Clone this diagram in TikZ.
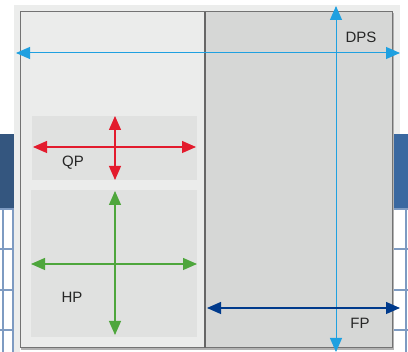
\documentclass[tikz,border=0pt]{standalone}
\usepackage{fontspec}
\setmainfont{Liberation Sans}
\usetikzlibrary{arrows.meta,positioning}

\definecolor{bandblue}{HTML}{34567F}
\definecolor{bandblueR}{HTML}{3A68A0}
\definecolor{gridblue}{HTML}{7E9BC2}
\definecolor{outerbg}{HTML}{ECEDEC}
\definecolor{leftbg}{HTML}{EBECEB}
\definecolor{rightbg}{HTML}{D6D7D6}
\definecolor{boxbg}{HTML}{E0E1E0}
\definecolor{dpsblue}{HTML}{1FA0E0}
\definecolor{qpred}{HTML}{E31B2D}
\definecolor{hpgreen}{HTML}{4EA63C}
\definecolor{fpblue}{HTML}{003A8C}

\begin{document}
\begin{tikzpicture}[x=1pt,y=-1pt,
  dblarrow/.style={{Triangle[length=14pt,width=12pt]}-{Triangle[length=14pt,width=12pt]},line width=1.2pt},
  lbl/.style={inner sep=0pt,font=\fontsize{15}{17}\selectfont,text=black!85}]
  \useasboundingbox (0,0) rectangle (408,352);
  % background behind the window
  \fill[white] (0,0) rectangle (408,352);
  \fill[bandblue] (0,134) rectangle (20,209);
  \fill[bandblueR] (392,134) rectangle (408,209);
  \foreach \y in {209,249,290,330}
    \draw[gridblue,line width=1.2pt] (0,\y) -- (20,\y) (392,\y) -- (408,\y);
  \foreach \x in {3,13,406}
    \draw[gridblue,line width=1.2pt] (\x,209) -- (\x,352);
  \fill[outerbg] (14,5) rectangle (400,134);
  \fill[outerbg] (14,134) rectangle (20,352);
  % window with shadow
  \fill[black!30] (21,13) rectangle (394,350);
  \fill[leftbg] (20,12) rectangle (205,348);
  \fill[rightbg] (205,12) rectangle (392,348);
  \draw[black!55,line width=1pt] (20,12) -- (392,12) -- (392,348);
  \draw[black!55,line width=1pt] (20,12) -- (20,348) -- (392,348);
  \draw[black!60,line width=1.2pt] (205,12) -- (205,348);
  % sub boxes
  \fill[boxbg] (32,116) rectangle (197,180);
  \fill[boxbg] (31,190) rectangle (197,337);

  % end points
  \coordinate (dpsW) at (16,53);
  \coordinate (dpsE) at (400,53);
  \coordinate (dpsN) at (336,6);
  \coordinate (dpsS) at (336,352);
  \coordinate (qpW) at (33,147);
  \coordinate (qpE) at (196,147);
  \coordinate (qpN) at (115,116);
  \coordinate (qpS) at (115,180);
  \coordinate (hpW) at (31,264);
  \coordinate (hpE) at (197,264);
  \coordinate (hpN) at (115,191);
  \coordinate (hpS) at (115,335);
  \coordinate (fpW) at (207,308);
  \coordinate (fpE) at (400,308);

  % arrows
  \draw[dblarrow,dpsblue,line width=1pt] (dpsW) -- (dpsE);
  \draw[dblarrow,dpsblue,line width=1pt] (dpsN) -- (dpsS);
  \draw[dblarrow,qpred] (qpW) -- (qpE);
  \draw[dblarrow,qpred] (qpN) -- (qpS);
  \draw[dblarrow,hpgreen] (hpW) -- (hpE);
  \draw[dblarrow,hpgreen] (hpN) -- (hpS);
  \draw[dblarrow,fpblue] (fpW) -- (fpE);

  % labels
  \node[lbl] (dps) at (361,37) {DPS};
  \node[lbl] (qp) at (73,163) {QP};
  \node[lbl] (hp) at (72,297) {HP};
  \node[lbl] (fp) at (360,323) {FP};
\end{tikzpicture}
\end{document}
